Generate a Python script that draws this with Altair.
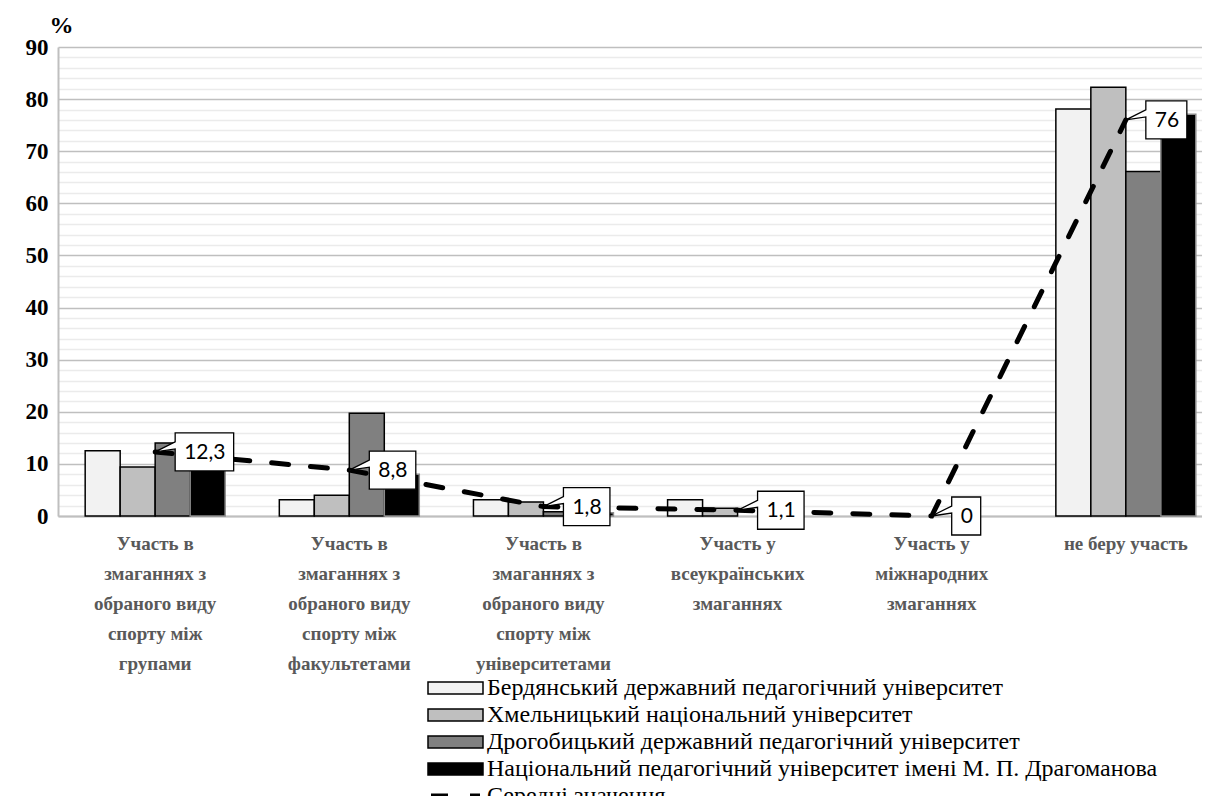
import altair as alt
import pandas as pd

categories = [
    "Участь в\nзмаганнях з\nобраного виду\nспорту між\nгрупами",
    "Участь в\nзмаганнях з\nобраного виду\nспорту між\nфакультетами",
    "Участь в\nзмаганнях з\nобраного виду\nспорту між\nуніверситетами",
    "Участь у\nвсеукраїнських\nзмаганнях",
    "Участь у\nміжнародних\nзмаганнях",
    "не беру участь",
]
universities = [
    "Бердянський державний педагогічний університет",
    "Хмельницький національний університет",
    "Дрогобицький державний педагогічний університет",
    "Національний педагогічний університет імені М. П. Драгоманова",
]
berdyansk = [12.5, 3.1, 3.1, 3.1, 0, 78.1]
khmelnytsky = [9.4, 4.0, 2.7, 1.5, 0, 82.3]
drohobych = [14.0, 19.7, 0.8, 0, 0, 66.1]
drahomanov = [13.3, 8.0, 0.6, 0, 0, 77.1]
means = [12.3, 8.8, 1.8, 1.1, 0, 76]
mean_labels = ["12,3", "8,8", "1,8", "1,1", "0", "76"]
mean_name = "Середні значення"

fills = ["#f2f2f2", "#bfbfbf", "#808080", "#000000"]

series = [berdyansk, khmelnytsky, drohobych, drahomanov]
rows = []
for u, vals in zip(universities, series):
    for c, v in zip(categories, vals):
        rows.append({"cat": c, "uni": u, "val": v})
bars_df = pd.DataFrame(rows)


def callout_path(label, L=20):
    w = sum(5.5 if ch == "," else 12 for ch in label) + 17
    r = L + w
    return f"M0,0L{L},-10L{L},-19L{r},-19L{r},19L{L},19L{L},-3Z"


mean_df = pd.DataFrame({
    "cat": categories,
    "val": means,
    "lab": mean_labels,
    "s": [mean_name] * len(categories),
    "path": [callout_path(l) for l in mean_labels],
})

x_scale = alt.Scale(domain=categories, range=[0, 1165], paddingInner=0.279, paddingOuter=0.14)
y_scale = alt.Scale(domain=[0, 90], nice=False)

x_axis = alt.Axis(
    title=None, ticks=False, labelAngle=0, labelExpr="split(datum.label, '\\n')",
    labelFont="Liberation Serif", labelFontSize=19, labelFontWeight="bold",
    labelColor="#595959", labelLineHeight=30, labelPadding=18, labelLimit=0,
    labelOverlap=False, domainColor="#bfbfbf", domainWidth=2,
)
y_axis = alt.Axis(
    title="%", titleAngle=0, titleX=3, titleY=-22, titleAlign="center",
    titleBaseline="middle", titleFont="Liberation Serif", titleFontSize=24,
    titleFontWeight="bold", titleColor="black",
    values=list(range(0, 91, 2)), tickCount=200, ticks=False, format="d",
    labelExpr="datum.value % 10 == 0 ? datum.label : ''",
    labelFont="Liberation Serif", labelFontSize=23, labelFontWeight="bold",
    labelColor="black", labelPadding=10, labelOverlap=False,
    domainColor="#bfbfbf", domainWidth=2,
    gridColor={"condition": {"test": "datum.value % 10 == 0", "value": "#bfbfbf"}, "value": "#ebebeb"},
    gridWidth=1.5,
)

bars = alt.Chart(bars_df).transform_filter("datum.val > 0").mark_bar(strokeWidth=1.5).encode(
    x=alt.X("cat:N", scale=x_scale, axis=x_axis, sort=categories),
    xOffset=alt.XOffset("uni:N", scale=alt.Scale(domain=universities, paddingInner=0, paddingOuter=0), sort=universities),
    y=alt.Y("val:Q", scale=y_scale, axis=y_axis),
    color=alt.Color(
        "uni:N",
        scale=alt.Scale(domain=universities, range=fills),
        legend=alt.Legend(
            title=None, orient="none", legendX=358, legendY=629,
            symbolType="M0,-6H55V6H0Z", symbolSize=4,
            symbolStrokeColor="black", symbolStrokeWidth=1.5,
            labelFont="Liberation Serif", labelFontSize=24, labelColor="black",
            labelLimit=1000, rowPadding=3, labelOffset=47,
        ),
    ),
    stroke=alt.condition(
        alt.datum.uni == universities[3], alt.value("#8c8c8c"), alt.value("black")
    ),
)

line = alt.Chart(mean_df).mark_line(color="black", strokeWidth=5, strokeCap="round").encode(
    x=alt.X("cat:N", scale=x_scale, sort=categories),
    y=alt.Y("val:Q", scale=y_scale),
    strokeDash=alt.StrokeDash(
        "s:N",
        scale=alt.Scale(domain=[mean_name], range=[[17, 22]]),
        legend=alt.Legend(
            title=None, orient="none", legendX=358, legendY=737,
            symbolType="M3,0H52", symbolSize=4, symbolStrokeWidth=5,
            symbolStrokeColor="black",
            labelFont="Liberation Serif", labelFontSize=24, labelColor="black",
            labelLimit=1000, labelOffset=47,
        ),
    ),
)

boxes = alt.Chart(mean_df).mark_point(
    filled=True, fill="white", stroke="black", strokeWidth=1.3, size=4, opacity=1
).encode(
    x=alt.X("cat:N", scale=x_scale, sort=categories),
    y=alt.Y("val:Q", scale=y_scale),
    shape=alt.Shape("path:N", scale=None),
)

texts = alt.Chart(mean_df).mark_text(
    align="left", baseline="middle", dx=29, dy=1, font="Lato", fontSize=21, color="black"
).encode(
    x=alt.X("cat:N", scale=x_scale, sort=categories),
    y=alt.Y("val:Q", scale=y_scale),
    text="lab:N",
)

chart = alt.layer(bars, line, boxes, texts).properties(
    width=1144, height=469,
    autosize=alt.AutoSizeParams(type="none"),
    padding={"left": 50, "top": 39, "right": 0, "bottom": 280},
    background="white",
).configure_view(strokeWidth=0)

chart.save("out.html", embed_options={"renderer": "svg", "actions": False})
